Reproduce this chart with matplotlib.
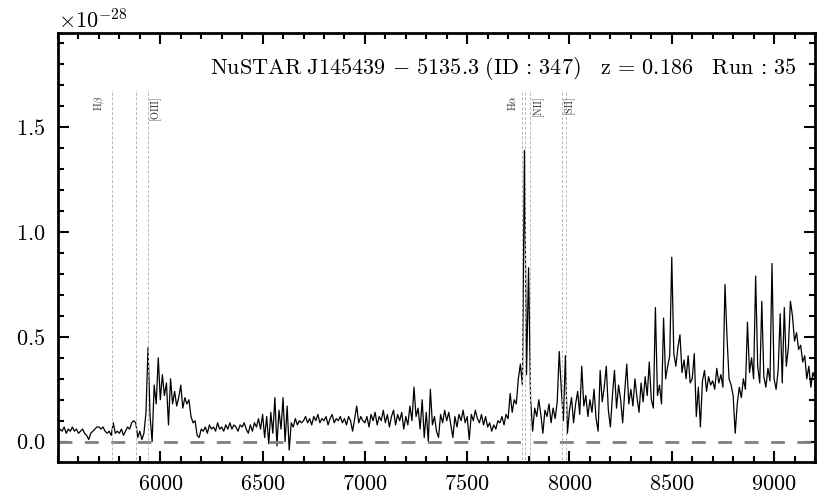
import numpy as np
import matplotlib
matplotlib.use("Agg")
import matplotlib.pyplot as plt
from matplotlib.ticker import MultipleLocator

plt.rcParams["font.family"] = "serif"
plt.rcParams["font.serif"] = ["cmr10"]
plt.rcParams["mathtext.fontset"] = "cm"
plt.rcParams["axes.formatter.use_mathtext"] = True

# spectrum sampled every 10 A from 5500 A, flux in units of 1e-28
WAVE_START = 5500
WAVE_STEP = 10
FLUX_SCALE = 1e-28
flux = [
    0.04, 0.06, 0.05, 0.07, 0.04, 0.06, 0.05, 0.07, 0.05, 0.06,
    0.04, 0.05, 0.06, 0.04, 0.03, 0.01, 0.04, 0.05, 0.06, 0.07,
    0.07, 0.06, 0.07, 0.05, 0.04, 0.05, 0.03, 0.09, 0.04, 0.05,
    0.04, 0.06, 0.03, 0.05, 0.07, 0.06, 0.09, 0.10, 0.09, 0.02,
    0.05, 0.01, 0.04, 0.14, 0.45, 0.12, 0.00, 0.27, 0.18, 0.40,
    0.20, 0.32, 0.22, 0.28, 0.08, 0.30, 0.18, 0.24, 0.17, 0.21,
    0.27, 0.16, 0.21, 0.18, 0.20, 0.12, 0.09, 0.10, 0.03, 0.02,
    0.06, 0.05, 0.07, 0.04, 0.08, 0.06, 0.07, 0.05, 0.09, 0.06,
    0.07, 0.05, 0.08, 0.06, 0.09, 0.06, 0.08, 0.07, 0.05, 0.08,
    0.07, 0.09, 0.06, 0.04, 0.08, 0.05, 0.09, 0.07, 0.11, 0.06,
    0.13, 0.02, 0.12, -0.01, 0.14, 0.04, 0.21, -0.02, 0.15, 0.06,
    0.21, 0.00, 0.17, -0.04, 0.09, 0.07, 0.11, 0.08, 0.10, 0.09,
    0.10, 0.12, 0.09, 0.11, 0.08, 0.12, 0.10, 0.13, 0.09, 0.11,
    0.10, 0.12, 0.08, 0.11, 0.13, 0.09, 0.11, 0.10, 0.12, 0.09,
    0.11, 0.08, 0.12, 0.10, 0.05, 0.11, 0.17, 0.09, 0.12, 0.10,
    0.09, 0.12, 0.07, 0.13, 0.10, 0.14, 0.08, 0.12, 0.10, 0.15,
    0.09, 0.13, 0.07, 0.12, 0.15, 0.08, 0.13, 0.10, 0.14, 0.06,
    0.12, 0.08, 0.17, 0.10, 0.26, 0.12, 0.16, 0.06, 0.20, 0.02,
    0.14, 0.00, 0.25, 0.08, 0.12, 0.05, 0.02, 0.13, 0.09, 0.15,
    0.10, 0.14, 0.08, 0.02, 0.12, 0.07, 0.13, 0.10, 0.15, 0.09,
    0.12, 0.01, 0.13, 0.10, 0.15, 0.11, 0.09, 0.13, 0.08, 0.12,
    0.07, 0.09, 0.05, 0.08, 0.06, 0.10, 0.09, 0.12, 0.08, 0.13,
    0.11, 0.23, 0.14, 0.20, 0.18, 0.30, 0.37, 0.27, 1.39, 0.32,
    0.83, 0.20, 0.05, 0.16, 0.12, 0.20, 0.13, 0.04, 0.15, 0.12,
    0.18, 0.09, 0.16, 0.11, 0.19, 0.43, 0.25, 0.10, 0.41, 0.04,
    0.15, 0.21, 0.09, 0.18, 0.24, 0.13, 0.36, 0.17, 0.22, 0.12,
    0.20, 0.14, 0.25, 0.11, 0.05, 0.34, 0.19, 0.26, 0.36, 0.15,
    0.07, 0.22, 0.34, 0.16, 0.27, 0.20, 0.09, 0.24, 0.37, 0.18,
    0.25, 0.17, 0.30, 0.21, 0.14, 0.28, 0.19, 0.31, 0.22, 0.38,
    0.20, 0.16, 0.64, 0.22, 0.27, 0.18, 0.59, 0.30, 0.36, 0.41,
    0.88, 0.42, 0.36, 0.45, 0.51, 0.33, 0.39, 0.30, 0.41, 0.28,
    0.30, 0.42, 0.12, 0.26, 0.07, 0.29, 0.34, 0.24, 0.31, 0.27,
    0.29, 0.25, 0.35, 0.28, 0.32, 0.26, 0.75, 0.50, 0.30, 0.27,
    0.22, 0.04, 0.18, 0.26, 0.21, 0.30, 0.25, 0.57, 0.33, 0.40,
    0.30, 0.79, 0.36, 0.28, 0.67, 0.31, 0.26, 0.35, 0.29, 0.85,
    0.30, 0.25, 0.34, 0.61, 0.28, 0.64, 0.36, 0.45, 0.67, 0.60,
    0.48, 0.52, 0.44, 0.46, 0.38, 0.41, 0.30, 0.36, 0.26, 0.33,
    0.30,
]

# emission lines (rest wavelength) and redshift
z = 0.186
line_rest = [4861, 4959, 5007, 6548, 6563, 6584, 6716, 6731]
line_names = [r"H$\beta$", "", "[OIII]", "", r"H$\alpha$", "[NII]", "", "[SII]"]
# label offset from the line in A, and which side the label sits on
label_dx = [-28, 0, 8, 0, -35, 12, 0, -12]
label_ha = ["right", "", "left", "", "right", "left", "", "left"]

title = (r"$\mathrm{NuSTAR\ J145439\,-\,5135.3\ (ID\,:\,347)"
         r"\quad z\,=\,0.186\quad Run\,:\,35}$")

wave = WAVE_START + WAVE_STEP * np.arange(len(flux))
flux = np.array(flux) * FLUX_SCALE

fig = plt.figure(figsize=(8.3, 4.98), dpi=100)
ax = fig.add_axes([0.0699, 0.0723, 0.9120, 0.8614])

ax.plot(wave, flux, color="black", lw=0.9)
ax.axhline(0, color="#808080", lw=2, dashes=(5, 4.5))

ytop = 1.68 * FLUX_SCALE
for rest, name, dx, ha in zip(line_rest, line_names, label_dx, label_ha):
    obs = rest * (1 + z)
    ax.plot([obs, obs], [-0.2 * FLUX_SCALE, ytop], color="#b8b8b8", lw=0.7,
            dashes=(3, 2))
    if name:
        ax.text(obs + dx, 1.655 * FLUX_SCALE, name, rotation=90, fontsize=7.5,
                ha=ha, va="top", color="#333333")

ax.text(0.975, 0.917, title, transform=ax.transAxes, ha="right", va="center",
        fontsize=16)

ax.set_xlim(5500, 9200)
ax.set_ylim(-0.097 * FLUX_SCALE, 1.95 * FLUX_SCALE)
ax.set_xticks([6000, 6500, 7000, 7500, 8000, 8500, 9000])
ax.xaxis.set_minor_locator(MultipleLocator(100))
ax.yaxis.set_major_locator(MultipleLocator(0.5 * FLUX_SCALE))
ax.yaxis.set_minor_locator(MultipleLocator(0.1 * FLUX_SCALE))
ax.tick_params(which="both", direction="in", top=True, right=True,
               labelsize=16, width=1.5)
ax.tick_params(which="major", length=8, pad=9)
ax.tick_params(which="minor", length=4.5)
ax.yaxis.get_offset_text().set_fontsize(16)
for s in ax.spines.values():
    s.set_linewidth(2)

fig.savefig("out.png", dpi=100)
